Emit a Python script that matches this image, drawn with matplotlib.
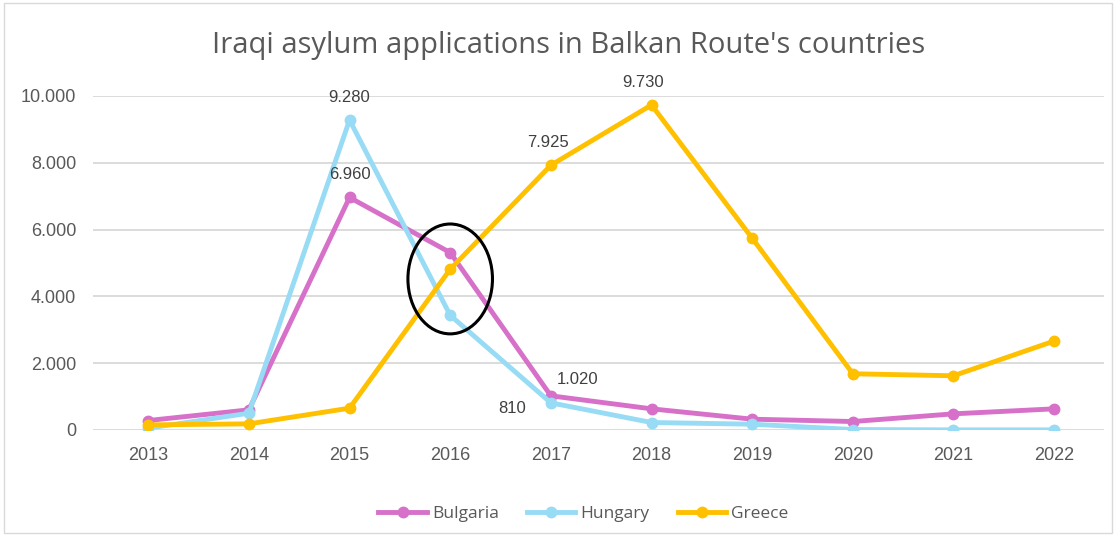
import matplotlib.pyplot as plt
from matplotlib.patches import Ellipse, Rectangle

years = ['2013', '2014', '2015', '2016', '2017', '2018', '2019', '2020', '2021', '2022']
bulgaria = [280, 600, 6960, 5310, 1020, 630, 320, 250, 480, 630]
hungary = [50, 500, 9280, 3430, 810, 220, 170, 10, 0, 0]
greece = [150, 180, 650, 4810, 7925, 9730, 5740, 1680, 1620, 2660]

plt.rcParams['font.family'] = ['Liberation Sans', 'DejaVu Sans']

def fmt(v):
    return '{:,}'.format(v).replace(',', '.')

fig = plt.figure(figsize=(11.19, 5.36), dpi=100)
ax = fig.add_axes([0.083, 0.198, 0.904, 0.623])

x = list(range(len(years)))
ax.plot(x, bulgaria, color='#D670C8', lw=3.5, marker='o', ms=7.5, label='Bulgaria', zorder=3)
ax.plot(x, hungary, color='#97DBF5', lw=3.5, marker='o', ms=7.5, label='Hungary', zorder=3)
ax.plot(x, greece, color='#FFC000', lw=3.5, marker='o', ms=7.5, label='Greece', zorder=4)

lab = dict(fontsize=12, color='#404040')
ax.annotate(fmt(hungary[2]), (2, hungary[2]), xytext=(0, 11), textcoords='offset points', ha='center', va='bottom', **lab)
ax.annotate(fmt(bulgaria[2]), (2, bulgaria[2]), xytext=(0, 11), textcoords='offset points', ha='center', va='bottom', **lab)
ax.annotate(fmt(greece[4]), (4, greece[4]), xytext=(-2, 11), textcoords='offset points', ha='center', va='bottom', **lab)
ax.annotate(fmt(greece[5]), (5, greece[5]), xytext=(-6, 11), textcoords='offset points', ha='center', va='bottom', **lab)
ax.annotate(fmt(bulgaria[4]), (4, bulgaria[4]), xytext=(4, 6), textcoords='offset points', ha='left', va='bottom', **lab)
ax.annotate(fmt(hungary[4]), (4, hungary[4]), xytext=(-18, -4), textcoords='offset points', ha='right', va='center', **lab)

# circle around the 2016 crossing
ax.add_patch(Ellipse((3, 4520), 0.84, 3290, fill=False, ec='black', lw=2.2, zorder=5))

ax.set_xlim(-0.55, len(years) - 0.5)
ax.set_ylim(0, 10000)
ax.set_xticks(x)
ax.set_xticklabels(years)
ax.set_yticks(range(0, 10001, 2000))
ax.set_yticklabels([fmt(v) for v in range(0, 10001, 2000)])
ax.tick_params(axis='both', length=0, labelsize=13, labelcolor='#595959')
ax.tick_params(axis='x', pad=12)
ax.tick_params(axis='y', pad=12)
ax.grid(axis='y', color='#D9D9D9', lw=1.3)
ax.set_axisbelow(True)
for s in ax.spines.values():
    s.set_visible(False)

fig.text(0.508, 0.915, "Iraqi asylum applications in Balkan Route's countries",
         ha='center', va='center', fontsize=21, color='#595959', family='Open Sans')

ax.legend(loc='upper center', bbox_to_anchor=(0.485, -0.18), ncol=3, frameon=False,
          prop={'family': 'Open Sans', 'size': 12.5}, labelcolor='#595959',
          handlelength=2.8, columnspacing=1.6, handletextpad=0.3)

fig.patches.append(Rectangle((0.004, 0.005), 0.99, 0.99, transform=fig.transFigure,
                             fill=False, ec='#D9D9D9', lw=1))

fig.savefig('out.png', dpi=100)
